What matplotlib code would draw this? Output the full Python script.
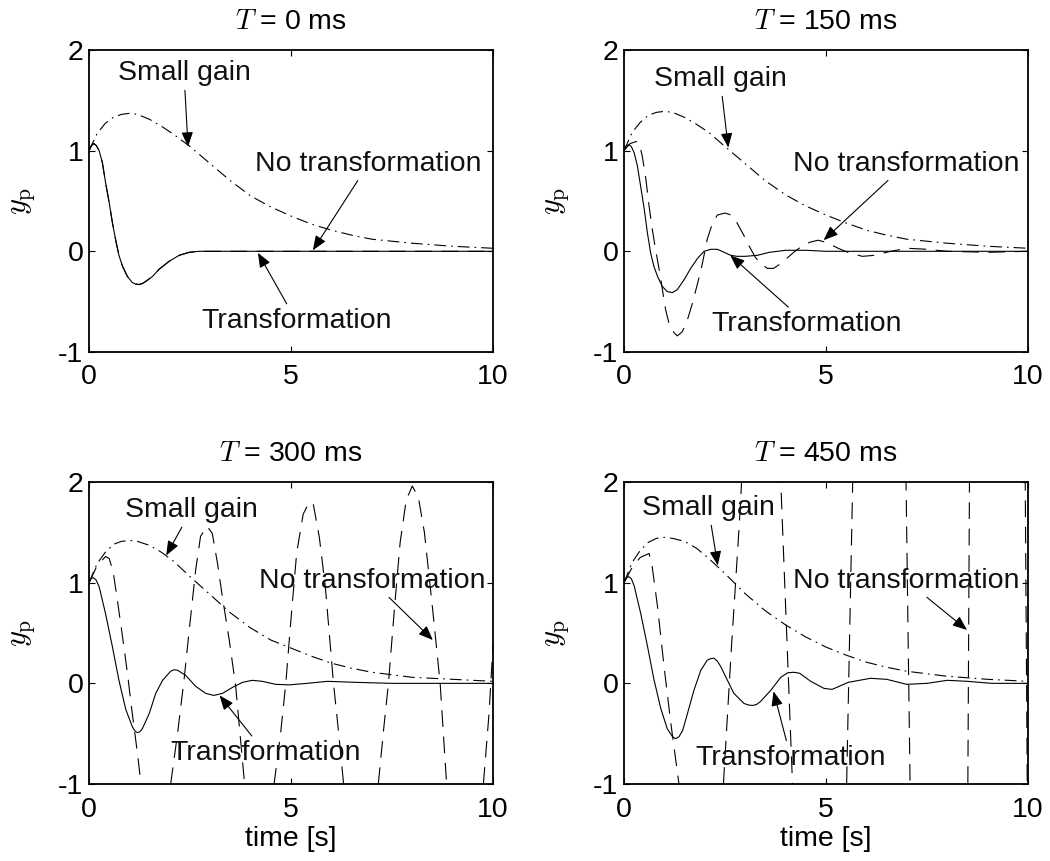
import matplotlib
matplotlib.use("Agg")
import matplotlib.pyplot as plt

plt.rcParams['font.family'] = ['Liberation Sans', 'DejaVu Sans']
plt.rcParams['mathtext.fontset'] = 'cm'
plt.rcParams['axes.unicode_minus'] = False
plt.rcParams['lines.scale_dashes'] = False

# delays shown in the panel titles
delays = ["0", "150", "300", "450"]

# small gain (dash-dot) -- same time grid for all panels
t_sg = [0, 0.2, 0.4, 0.6, 0.8, 1.0, 1.2, 1.5, 1.8, 2.1, 2.5, 3.0, 3.5, 4.0, 4.5, 5.0, 5.5, 6.0, 6.5, 7.0, 8.0, 9.0, 10.0]
sg_0 = [1.0, 1.17, 1.27, 1.33, 1.36, 1.37, 1.36, 1.31, 1.24, 1.16, 1.04, 0.87, 0.70, 0.55, 0.44, 0.35, 0.27, 0.21, 0.16, 0.12, 0.08, 0.05, 0.03]
sg_150 = [1.0, 1.18, 1.28, 1.35, 1.38, 1.39, 1.38, 1.33, 1.26, 1.18, 1.04, 0.87, 0.70, 0.56, 0.45, 0.36, 0.28, 0.21, 0.16, 0.12, 0.08, 0.05, 0.03]
sg_300 = [1.0, 1.19, 1.30, 1.38, 1.41, 1.42, 1.41, 1.37, 1.30, 1.21, 1.06, 0.88, 0.70, 0.55, 0.43, 0.35, 0.27, 0.20, 0.15, 0.11, 0.06, 0.04, 0.02]
sg_450 = [1.0, 1.20, 1.32, 1.40, 1.44, 1.45, 1.44, 1.41, 1.34, 1.24, 1.09, 0.89, 0.72, 0.58, 0.46, 0.36, 0.28, 0.21, 0.16, 0.12, 0.07, 0.04, 0.02]

# transformation (solid)
t_tr_0 = [0, 0.06, 0.12, 0.18, 0.25, 0.33, 0.41, 0.5, 0.58, 0.66, 0.74, 0.83, 0.95, 1.07, 1.15, 1.24, 1.32, 1.4, 1.57, 1.73, 1.98, 2.23, 2.48, 2.72, 3.5, 5.0, 10.0]
tr_0 = [1.0, 1.05, 1.07, 1.05, 1.0, 0.88, 0.68, 0.48, 0.28, 0.11, -0.04, -0.15, -0.25, -0.31, -0.325, -0.33, -0.32, -0.30, -0.25, -0.18, -0.10, -0.04, -0.01, 0.0, 0.0, 0.0, 0.0]

t_tr_150 = [0, 0.06, 0.12, 0.18, 0.25, 0.33, 0.41, 0.5, 0.58, 0.66, 0.74, 0.83, 0.95, 1.07, 1.2, 1.32, 1.49, 1.65, 1.82, 1.98, 2.15, 2.31, 2.48, 2.64, 2.8, 3.0, 3.3, 3.6, 4.0, 4.5, 5.0, 10.0]
tr_150 = [1.0, 1.05, 1.06, 1.04, 0.98, 0.85, 0.65, 0.42, 0.18, -0.02, -0.15, -0.25, -0.35, -0.40, -0.41, -0.38, -0.28, -0.17, -0.07, 0.0, 0.02, 0.02, -0.01, -0.04, -0.05, -0.05, -0.04, -0.01, 0.01, 0.01, 0.0, 0.0]

t_tr_300 = [0, 0.05, 0.1, 0.17, 0.25, 0.41, 0.58, 0.74, 0.91, 1.07, 1.14, 1.2, 1.26, 1.32, 1.49, 1.65, 1.82, 2.02, 2.1, 2.19, 2.39, 2.64, 2.89, 3.09, 3.3, 3.55, 3.8, 4.04, 4.29, 4.62, 4.95, 5.4, 5.9, 6.6, 7.5, 10.0]
tr_300 = [1.0, 1.04, 1.05, 1.03, 0.96, 0.69, 0.36, 0.03, -0.26, -0.43, -0.475, -0.49, -0.48, -0.45, -0.30, -0.10, 0.03, 0.12, 0.135, 0.13, 0.08, -0.03, -0.10, -0.12, -0.10, -0.04, 0.01, 0.03, 0.02, -0.01, -0.015, 0.0, 0.02, 0.01, 0.0, 0.0]

t_tr_450 = [0, 0.06, 0.12, 0.18, 0.25, 0.41, 0.58, 0.74, 0.91, 1.07, 1.2, 1.28, 1.36, 1.45, 1.57, 1.73, 1.9, 2.06, 2.14, 2.23, 2.31, 2.39, 2.56, 2.72, 2.97, 3.08, 3.18, 3.28, 3.38, 3.63, 3.88, 4.05, 4.2, 4.35, 4.62, 4.95, 5.15, 5.55, 6.1, 6.5, 7.0, 7.5, 8.0, 8.5, 9.1, 10.0]
tr_450 = [1.0, 1.05, 1.06, 1.04, 0.97, 0.70, 0.37, 0.04, -0.25, -0.45, -0.53, -0.55, -0.53, -0.47, -0.30, -0.07, 0.13, 0.23, 0.245, 0.25, 0.22, 0.17, 0.03, -0.10, -0.20, -0.215, -0.22, -0.21, -0.18, -0.07, 0.06, 0.105, 0.11, 0.10, 0.02, -0.05, -0.06, 0.01, 0.05, 0.04, -0.01, 0.0, 0.03, 0.02, 0.0, 0.0]

# no transformation (dashed); at T = 0 it is the same as the transformation
t_nt_0 = list(t_tr_0)
nt_0 = list(tr_0)

t_nt_150 = [0, 0.15, 0.3, 0.37, 0.45, 0.54, 0.62, 0.70, 0.78, 0.87, 0.95, 1.03, 1.11, 1.24, 1.32, 1.44, 1.57, 1.69, 1.82, 1.94, 2.06, 2.19, 2.31, 2.5, 2.65, 2.8, 2.95, 3.1, 3.25, 3.4, 3.55, 3.7, 3.85, 4.0, 4.2, 4.4, 4.6, 4.8, 5.0, 5.3, 5.6, 5.9, 6.2, 6.6, 7.0, 7.5, 8.0, 9.0, 10.0]
nt_150 = [1.0, 1.07, 1.09, 1.08, 0.95, 0.72, 0.45, 0.22, 0.02, -0.18, -0.38, -0.58, -0.71, -0.81, -0.84, -0.80, -0.68, -0.52, -0.32, -0.12, 0.12, 0.28, 0.36, 0.38, 0.36, 0.28, 0.17, 0.05, -0.06, -0.13, -0.17, -0.17, -0.13, -0.08, -0.01, 0.05, 0.09, 0.11, 0.09, 0.03, -0.02, -0.05, -0.04, 0.0, 0.03, 0.02, 0.0, -0.01, 0.0]

t_nt_300 = [0, 0.2, 0.41, 0.5, 0.6, 0.7, 0.83, 0.95, 1.07, 1.2, 1.3, 1.5, 1.7, 1.85, 2.02, 2.19, 2.35, 2.48, 2.64, 2.76, 2.92, 3.05, 3.18, 3.3, 3.47, 3.63, 3.75, 3.85, 4.2, 4.4, 4.58, 4.74, 4.87, 4.99, 5.14, 5.3, 5.45, 5.55, 5.7, 5.85, 6.05, 6.18, 6.3, 6.7, 7.0, 7.16, 7.28, 7.41, 7.55, 7.7, 7.85, 8.0, 8.15, 8.3, 8.5, 8.69, 8.85, 9.3, 9.76, 9.9, 10.0]
nt_300 = [1.0, 1.17, 1.26, 1.24, 1.10, 0.83, 0.46, 0.10, -0.30, -0.70, -1.05, -1.60, -1.80, -1.60, -1.0, -0.5, 0.03, 0.53, 1.13, 1.46, 1.56, 1.49, 1.19, 0.86, 0.43, -0.03, -0.56, -1.0, -1.80, -1.60, -1.0, -0.5, 0.0, 0.6, 1.3, 1.68, 1.80, 1.78, 1.45, 0.95, 0.0, -0.5, -1.0, -2.0, -1.6, -1.0, -0.5, 0.0, 0.7, 1.4, 1.82, 1.96, 1.85, 1.5, 0.75, 0.0, -1.0, -2.2, -1.0, -0.3, 0.4]

t_nt_450 = [0, 0.2, 0.4, 0.62, 0.7, 0.83, 0.99, 1.16, 1.36, 1.6, 1.9, 2.46, 2.65, 2.85, 2.91, 3.4, 3.88, 4.17, 4.8, 5.51, 5.66, 6.3, 6.98, 7.08, 7.8, 8.51, 8.55, 9.2, 9.93, 9.98]
nt_450 = [1.0, 1.15, 1.25, 1.29, 1.15, 0.76, 0.17, -0.40, -1.0, -1.8, -2.4, -1.0, 0.3, 1.56, 2.0, 4.5, 2.0, -1.0, -6.0, -1.0, 2.0, 10.0, 2.0, -1.0, -20.0, -1.0, 2.0, 40.0, 2.0, -1.0]

xticks = [0, 5, 10]
yticks = [-1, 0, 1, 2]

# (text x, text y, arrow x, arrow y) for the three labels of each panel
notes = [
    {"Small gain": (2.35, 1.77, 2.45, 1.04), "No transformation": (6.92, 0.87, 5.54, 0.01), "Transformation": (5.13, -0.69, 4.18, -0.015)},
    {"Small gain": (2.38, 1.71, 2.58, 1.03), "No transformation": (6.98, 0.87, 4.94, 0.11), "Transformation": (4.53, -0.72, 2.63, -0.04)},
    {"Small gain": (2.53, 1.72, 1.91, 1.27), "No transformation": (7.00, 1.02, 8.51, 0.43), "Transformation": (4.36, -0.69, 3.23, -0.12)},
    {"Small gain": (2.09, 1.74, 2.32, 1.17), "No transformation": (6.99, 1.02, 8.49, 0.53), "Transformation": (4.13, -0.74, 3.70, -0.08)},
]

panels = [
    (t_tr_0, tr_0, t_nt_0, nt_0, sg_0),
    (t_tr_150, tr_150, t_nt_150, nt_150, sg_150),
    (t_tr_300, tr_300, t_nt_300, nt_300, sg_300),
    (t_tr_450, tr_450, t_nt_450, nt_450, sg_450),
]

# axes boxes in figure fraction (left, bottom, width, height)
boxes = [
    (0.0848, 0.5912, 0.3848, 0.3508),
    (0.5943, 0.5912, 0.3848, 0.3508),
    (0.0848, 0.0894, 0.3848, 0.3508),
    (0.5943, 0.0894, 0.3848, 0.3508),
]

fs = 20.5
fig = plt.figure(figsize=(10.5, 8.61), dpi=100)

for i in range(4):
    ax = fig.add_axes(boxes[i])
    t_tr, tr, t_nt, nt, sg = panels[i]

    ax.plot(t_tr, tr, color='k', lw=0.8)
    ax.plot(t_nt, nt, color='k', lw=0.8, dashes=(12, 7))
    ax.plot(t_sg, sg, color='k', lw=0.8, dashes=(8.5, 3.6, 1.2, 3.6))

    for label, (tx, ty, ax_, ay) in notes[i].items():
        ax.annotate(label, xy=(ax_, ay), xytext=(tx, ty), fontsize=fs,
                    ha='center', va='center', color='#111111',
                    arrowprops=dict(arrowstyle='-|>,head_length=0.4,head_width=0.16',
                                    color='k', lw=0.8,
                                    mutation_scale=22, shrinkA=1, shrinkB=0))

    ax.set_xlim(0, 10)
    ax.set_ylim(-1, 2)
    ax.set_xticks(xticks)
    ax.set_yticks(yticks)
    ax.tick_params(direction='in', length=4, width=0.8, top=True, right=True,
                   labelsize=fs, colors='k')
    ax.tick_params(axis='x', pad=9)
    ax.tick_params(axis='y', pad=4)
    for s in ax.spines.values():
        s.set_linewidth(1.3)

    ax.set_title(r'$T$ = ' + delays[i] + ' ms', fontsize=fs, pad=15)
    ax.set_ylabel(r'$y_{\rm p}$', fontsize=22)
    ax.yaxis.set_label_coords(-0.13, 0.5)
    if i >= 2:
        ax.set_xlabel('time [s]', fontsize=fs)
        ax.xaxis.set_label_coords(0.5, -0.14)

fig.savefig("out.png", dpi=100)
